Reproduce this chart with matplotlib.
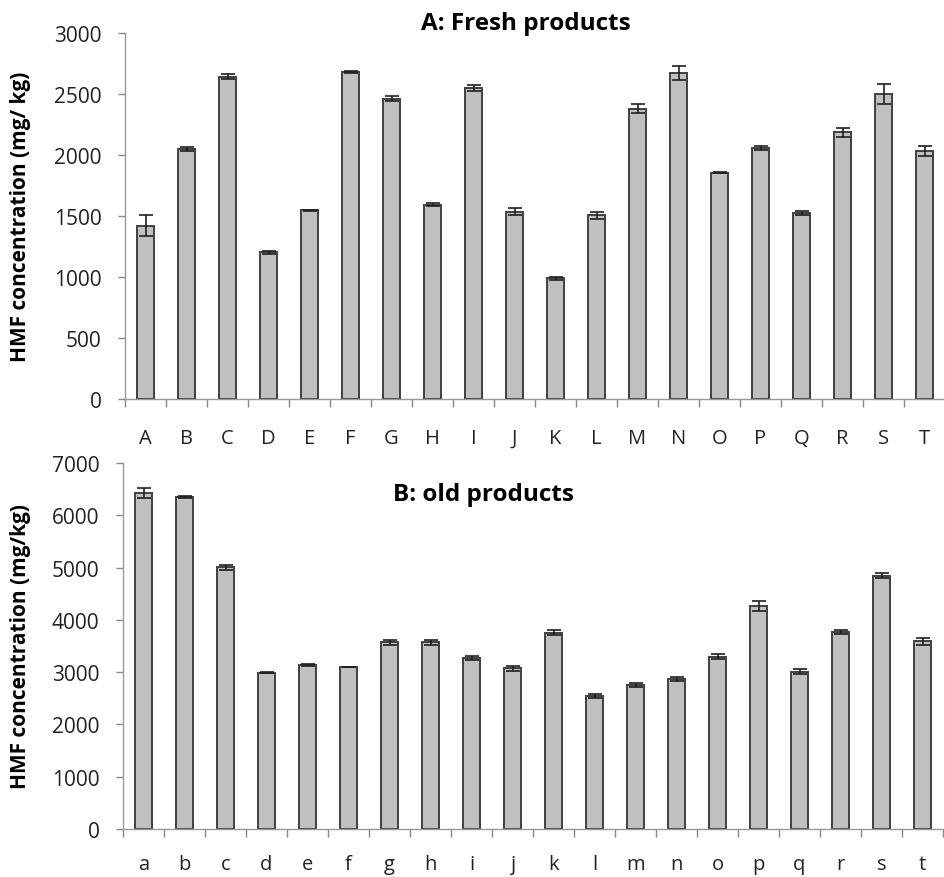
import matplotlib.pyplot as plt
import numpy as np

fresh_labels = list("ABCDEFGHIJKLMNOPQRST")
fresh_values = [1420, 2045, 2637, 1200, 1546, 2678, 2460, 1590, 2547, 1535,
                987, 1505, 2378, 2667, 1854, 2053, 1524, 2182, 2495, 2032]
fresh_errors = [85, 15, 20, 10, 5, 10, 20, 12, 25, 25,
                12, 30, 40, 55, 5, 15, 15, 40, 80, 40]

old_labels = list("abcdefghijklmnopqrst")
old_values = [6420, 6350, 5004, 2990, 3136, 3092, 3570, 3570, 3270, 3073,
              3750, 2550, 2754, 2869, 3296, 4271, 3009, 3774, 4845, 3589]
old_errors = [95, 15, 45, 15, 15, 0, 45, 45, 45, 45,
              50, 40, 35, 40, 50, 95, 45, 40, 55, 65]

plt.rcParams['font.family'] = ['Open Sans', 'DejaVu Sans']

fig = plt.figure(figsize=(9.45, 8.78), dpi=100)
ax1 = fig.add_axes([0.1323, 0.5444, 0.8677, 0.4174])
ax2 = fig.add_axes([0.1302, 0.0547, 0.8677, 0.4169])


def draw_panel(ax, labels, values, errors, ymax, step, ylabel, labx, xpad):
    x = np.arange(len(labels))
    ax.bar(x, values, width=0.42, color='#c0c0c0', edgecolor='#404040',
           linewidth=1.4, zorder=2)
    ax.errorbar(x, values, yerr=errors, fmt='none', ecolor='#202020',
                elinewidth=1.2, capsize=5, capthick=1.2, zorder=3)
    ax.set_xlim(-0.5, len(labels) - 0.5)
    ax.set_ylim(0, ymax)
    ax.set_yticks(np.arange(0, ymax + 1, step))
    ax.set_xticks(x)
    ax.set_xticklabels(labels)
    ax.set_xticks(np.arange(-0.5, len(labels), 1), minor=True)
    ax.tick_params(axis='x', which='major', length=0, pad=xpad, labelsize=14.5,
                   colors='#222222')
    ax.tick_params(axis='x', which='minor', length=6, width=1, color='#888888')
    ax.tick_params(axis='y', length=5, width=1, color='#888888', pad=12,
                   labelsize=15, labelcolor='#222222')
    for s in ['top', 'right']:
        ax.spines[s].set_visible(False)
    for s in ['left', 'bottom']:
        ax.spines[s].set_color('#999999')
        ax.spines[s].set_linewidth(1)
    ax.set_ylabel(ylabel, fontsize=15, fontweight='bold')
    ax.yaxis.set_label_coords(labx, 0.5)


draw_panel(ax1, fresh_labels, fresh_values, fresh_errors, 3000, 500,
           'HMF concentration (mg/ kg)', -0.1146, 21)
draw_panel(ax2, old_labels, old_values, old_errors, 7000, 1000,
           'HMF concentration (mg/kg)', -0.112, 18)

fig.text(0.556, 0.973, 'A: Fresh products', ha='center', va='center',
         fontsize=17.5, fontweight='bold')
ax2.text(0.44, 0.915, 'B: old products', transform=ax2.transAxes,
         ha='center', va='center', fontsize=17.5, fontweight='bold')

plt.savefig('out.png', dpi=100)
